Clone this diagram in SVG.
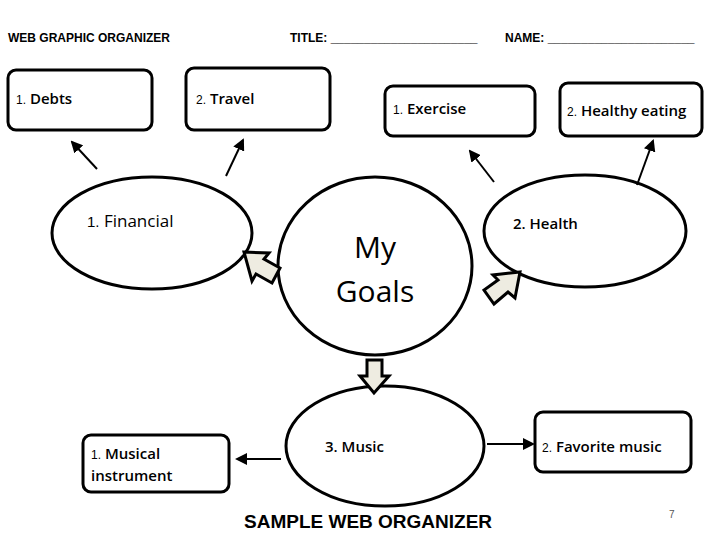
<svg xmlns="http://www.w3.org/2000/svg" width="720" height="540" viewBox="0 0 720 540">
<style>
.box{fill:#fff;stroke:#000;stroke-width:3}
.ell{fill:#fff;stroke:#000;stroke-width:3}
.ln{stroke:#000;stroke-width:2;fill:none}
.blk{fill:#eeece1;stroke:#000;stroke-width:3;stroke-linejoin:miter}
.t{font-family:"Open Sans","Liberation Sans",sans-serif;font-size:15px}
.b{font-weight:600}
.n{font-family:"Liberation Sans",sans-serif;font-size:12px}
.h{font-family:"Liberation Sans",sans-serif;font-size:12px;font-weight:bold}
</style>
<defs><marker id="ah" markerWidth="6" markerHeight="6" refX="5" refY="3" orient="auto"><path d="M0,0 L6,3 L0,6z" fill="#000"/></marker></defs>
<rect width="720" height="540" fill="#fff"/>
<text class="h" x="8" y="42">WEB GRAPHIC ORGANIZER</text>
<text class="h" x="290" y="42">TITLE: ______________________</text>
<text class="h" x="505" y="42">NAME: ______________________</text>
<g id="debts"><rect class="box" x="8" y="70" width="144" height="60" rx="8"/><text x="16" y="104"><tspan class="n">1.</tspan><tspan class="t b"> Debts</tspan></text></g>
<g id="travel"><rect class="box" x="186" y="68" width="144" height="62" rx="8"/><text x="196" y="104"><tspan class="n">2.</tspan><tspan class="t b">  Travel</tspan></text></g>
<g id="exercise"><rect class="box" x="385" y="86" width="150" height="50" rx="8"/><text x="393" y="114"><tspan class="n">1.</tspan><tspan class="t b">  Exercise</tspan></text></g>
<g id="healthy"><rect class="box" x="560" y="83" width="142" height="53" rx="8"/><text x="567" y="116"><tspan class="n">2.</tspan><tspan class="t b">  Healthy eating</tspan></text></g>
<g id="financial"><ellipse class="ell" cx="152" cy="233" rx="100" ry="56"/><text x="87" y="227"><tspan class="n" style="font-size:15px">1.</tspan><tspan class="t" style="font-size:17px"> Financial</tspan></text></g>
<g id="goals"><ellipse class="ell" cx="375" cy="266" rx="97" ry="89"/><text class="t" style="font-size:30px" text-anchor="middle" x="375" y="258">My</text><text class="t" style="font-size:30px" text-anchor="middle" x="375" y="302">Goals</text></g>
<g id="health"><ellipse class="ell" cx="585" cy="231" rx="101" ry="56"/><text class="t b" x="513" y="229">2.  Health</text></g>
<g id="music"><ellipse class="ell" cx="385" cy="446" rx="99" ry="60"/><text class="t b" x="325" y="452">3.  Music</text></g>
<g id="instrument"><rect class="box" x="83" y="435" width="146" height="57" rx="8"/><text x="91" y="459"><tspan class="n">1.</tspan><tspan class="t b"> Musical</tspan></text><text class="t b" x="91" y="481">instrument</text></g>
<g id="favorite"><rect class="box" x="535" y="412" width="156" height="60" rx="8"/><text x="542" y="452"><tspan class="n">2.</tspan><tspan class="t b">  Favorite music</tspan></text></g>
<g id="connectors">
<line class="ln" x1="97" y1="169" x2="72" y2="142" marker-end="url(#ah)"/>
<line class="ln" x1="226" y1="176" x2="243" y2="140" marker-end="url(#ah)"/>
<line class="ln" x1="494" y1="182" x2="470" y2="151" marker-end="url(#ah)"/>
<line class="ln" x1="637" y1="185" x2="653" y2="141" marker-end="url(#ah)"/>
<line class="ln" x1="281" y1="459" x2="237" y2="459" marker-end="url(#ah)"/>
<line class="ln" x1="487" y1="444" x2="533" y2="444" marker-end="url(#ah)"/>
<path class="blk" d="M367,360 L367,376 L360,376 L374,393 L389,376 L382,376 L382,360 Z"/>
<path class="blk" d="M244,252 L269,253 L264,259 L280,268 L272,283 L256,274 L252,281 Z"/>
<path class="blk" d="M520,272 L515,298 L508,292 L494,304 L484,290 L498,280 L493,275 Z"/>
</g>
<text font-family="Liberation Sans,sans-serif" font-size="19" font-weight="bold" x="244" y="528">SAMPLE  WEB  ORGANIZER</text>
<text font-family="Liberation Sans,sans-serif" font-size="10" fill="#555" x="669" y="518">7</text>
</svg>
